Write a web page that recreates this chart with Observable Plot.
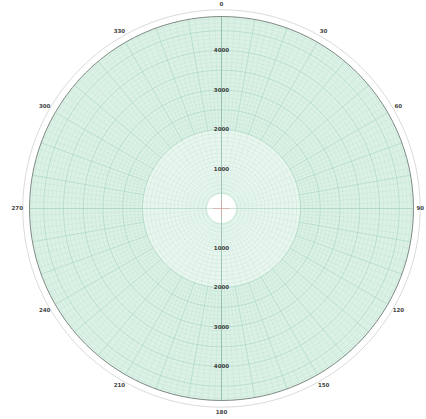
<!DOCTYPE html>
<html>
<head>
<meta charset="utf-8">
<script src="https://cdn.jsdelivr.net/npm/d3@7"></script>
<script src="https://cdn.jsdelivr.net/npm/@observablehq/plot@0.6"></script>
<style>
  html, body { margin: 0; padding: 0; background: #ffffff; }
  #chart svg { display: block; }
</style>
</head>
<body>
<div id="chart"></div>
<script>
// ---- data ----
const angleDegrees = [0, 30, 60, 90, 120, 150, 180, 210, 240, 270, 300, 330];
const angleLabels = ["0", "30", "60", "90", "120", "150", "180", "210", "240", "270", "300", "330"];
const ringValues = [1000, 2000, 3000, 4000];
const ringLabels = ["1000", "2000", "3000", "4000"];
const holeValue = 380;      // white centre hole
const innerZoneValue = 2000; // inner lighter zone boundary
const outerValue = 4860;    // outer rim of the chart
const ringStep = 100;       // minor ring spacing
const spokeStep = 2;        // minor spoke spacing (deg)

// ---- geometry helpers (grid construction) ----
const rad = d => (d * Math.PI) / 180;
const pt = (r, deg) => ({ x: r * Math.sin(rad(deg)), y: r * Math.cos(rad(deg)) });

function circle(r, id) {
  return d3.range(0, 361, 3).map(a => ({ ...pt(r, a), id }));
}

const minorRings = [], majorRings = [], innerRings = [];
for (let v = innerZoneValue + ringStep; v < outerValue; v += ringStep) {
  (v % 500 === 0 ? majorRings : minorRings).push(...circle(v, v));
}
for (let v = holeValue + 20; v < innerZoneValue; v += ringStep) {
  innerRings.push(...circle(v, v));
}

const minorSpokes = [], majorSpokes = [], innerSpokes = [];
for (let a = 0; a < 360; a += spokeStep) {
  const target = a % 10 === 0 ? majorSpokes : minorSpokes;
  target.push({ ...pt(innerZoneValue, a), id: a }, { ...pt(outerValue, a), id: a });
}
for (let a = 0; a < 360; a += 5) {
  innerSpokes.push({ ...pt(holeValue, a), id: a }, { ...pt(innerZoneValue, a), id: a });
}

const labelR = 5170;
const R = 5063;
const plot = Plot.plot({
  width: 426,
  height: 419,
  marginLeft: 21,
  marginRight: 5,
  marginTop: 8,
  marginBottom: 11,
  x: { domain: [-R, R], axis: null },
  y: { domain: [-R, R], axis: null },
  style: { background: "#ffffff", fontFamily: "DejaVu Sans, sans-serif" },
  marks: [
    // faint outer guide ring
    Plot.line(circle(outerValue + 170, 0), { x: "x", y: "y", stroke: "#d0d0d0", strokeWidth: 0.8 }),
    // paper fill
    Plot.line(circle(outerValue, 0), { x: "x", y: "y", fill: "#dcf1e6", stroke: "none" }),
    Plot.line(circle(innerZoneValue, 0), { x: "x", y: "y", fill: "#e8f6ef", stroke: "none" }),
    // outer grid
    Plot.line(minorSpokes, { x: "x", y: "y", z: "id", stroke: "#c2e4d2", strokeWidth: 0.5 }),
    Plot.line(majorSpokes, { x: "x", y: "y", z: "id", stroke: "#a9d8bf", strokeWidth: 0.7 }),
    Plot.line(minorRings, { x: "x", y: "y", z: "id", stroke: "#c2e4d2", strokeWidth: 0.5 }),
    Plot.line(majorRings, { x: "x", y: "y", z: "id", stroke: "#a9d8bf", strokeWidth: 0.7 }),
    // inner grid
    Plot.line(innerSpokes, { x: "x", y: "y", z: "id", stroke: "#c8e6d6", strokeWidth: 0.5, strokeDasharray: "2,1.5" }),
    Plot.line(innerRings, { x: "x", y: "y", z: "id", stroke: "#c8e6d6", strokeWidth: 0.5 }),
    Plot.line(circle(innerZoneValue, 0), { x: "x", y: "y", stroke: "#a9d8bf", strokeWidth: 0.8 }),
    // centre hole
    Plot.line(circle(holeValue, 0), { x: "x", y: "y", fill: "#ffffff", stroke: "#b5dcc7", strokeWidth: 0.6 }),
    // axes through centre
    Plot.line([{ x: 0, y: -outerValue }, { x: 0, y: outerValue }], { x: "x", y: "y", stroke: "#86b39c", strokeWidth: 0.7 }),
    Plot.line([{ x: -outerValue, y: 0 }, { x: outerValue, y: 0 }], { x: "x", y: "y", stroke: "#aed4c0", strokeWidth: 0.6 }),
    Plot.line([{ x: -200, y: 0 }, { x: 200, y: 0 }], { x: "x", y: "y", stroke: "#d99", strokeWidth: 0.6 }),
    Plot.line([{ x: 0, y: -200 }, { x: 0, y: 200 }], { x: "x", y: "y", stroke: "#d99", strokeWidth: 0.6 }),
    // outer rim
    Plot.line(circle(outerValue, 0), { x: "x", y: "y", stroke: "#7f8a85", strokeWidth: 1 }),
    // ring labels (above and below centre)
    Plot.text(ringValues, { x: () => 0, y: d => d, text: (d, i) => ringLabels[i], fontSize: 5.5, fontWeight: "bold", fill: "#3a403d" }),
    Plot.text(ringValues, { x: () => 0, y: d => -d, text: (d, i) => ringLabels[i], fontSize: 5.5, fontWeight: "bold", fill: "#3a403d" }),
    // angle labels around the rim
    Plot.text(angleDegrees, {
      filter: d => d !== 90,
      x: d => labelR * Math.sin(rad(d)),
      y: d => labelR * Math.cos(rad(d)),
      text: (d, i) => angleLabels[i],
      fontSize: 5.5,
      fontWeight: "bold",
      fill: "#444",
      clip: false
    }),
    Plot.text(angleDegrees, {
      filter: d => d === 90,
      x: d => 5130 * Math.sin(rad(d)),
      y: d => 5130 * Math.cos(rad(d)),
      text: (d, i) => angleLabels[i],
      textAnchor: "end",
      fontSize: 5.5,
      fontWeight: "bold",
      fill: "#444",
      clip: false
    })
  ]
});
document.getElementById("chart").appendChild(plot);
</script>
</body>
</html>
